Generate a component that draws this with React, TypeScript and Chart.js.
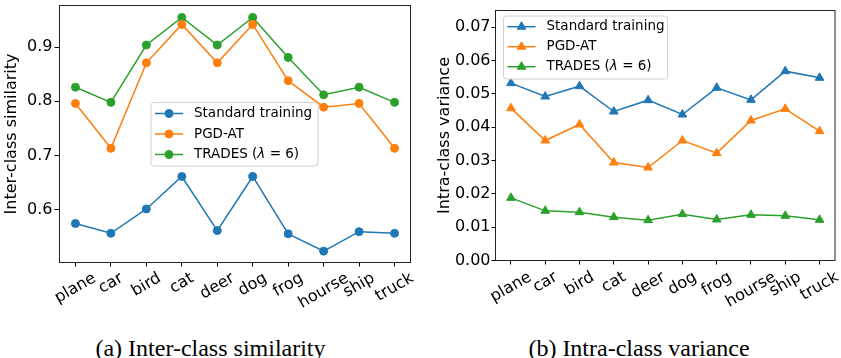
import React, { useEffect, useRef } from 'react';
import { Chart, registerables } from 'chart.js';
Chart.register(...registerables);

const categories = ['plane', 'car', 'bird', 'cat', 'deer', 'dog', 'frog', 'hourse', 'ship', 'truck'];
const seriesLabels = ['Standard training', 'PGD-AT', 'TRADES (λ = 6)'];
const seriesColors = ['#1f77b4', '#ff7f0e', '#2ca02c'];

const interStandard = [0.574, 0.556, 0.601, 0.661, 0.561, 0.661, 0.555, 0.523, 0.559, 0.556];
const interPGD = [0.796, 0.713, 0.871, 0.942, 0.871, 0.942, 0.838, 0.789, 0.796, 0.713];
const interTRADES = [0.826, 0.798, 0.904, 0.955, 0.904, 0.955, 0.881, 0.812, 0.826, 0.798];

const intraStandard = [0.0532, 0.0492, 0.0523, 0.0447, 0.0481, 0.0438, 0.0518, 0.0482, 0.0568, 0.0548];
const intraPGD = [0.0457, 0.036, 0.0408, 0.0294, 0.0279, 0.036, 0.0322, 0.042, 0.0455, 0.0388];
const intraTRADES = [0.0188, 0.0149, 0.0145, 0.013, 0.0121, 0.0139, 0.0123, 0.0137, 0.0134, 0.0122];

const interTicks = [0.6, 0.7, 0.8, 0.9];
const intraTicks = [0, 0.01, 0.02, 0.03, 0.04, 0.05, 0.06, 0.07];

const FONT = '"DejaVu Sans", sans-serif';

function drawMarker(ctx: CanvasRenderingContext2D, style: string, x: number, y: number, r: number, color: string) {
  ctx.save();
  ctx.fillStyle = color;
  ctx.strokeStyle = color;
  ctx.lineWidth = 1;
  ctx.beginPath();
  if (style === 'triangle') {
    ctx.moveTo(x, y - r);
    ctx.lineTo(x + r * 0.866, y + r * 0.5);
    ctx.lineTo(x - r * 0.866, y + r * 0.5);
    ctx.closePath();
  } else {
    ctx.arc(x, y, r, 0, Math.PI * 2);
  }
  ctx.fill();
  ctx.stroke();
  ctx.restore();
}

const customPlugin = {
  id: 'custom',
  afterDraw(chart: any, _args: any, opts: any) {
    const { ctx, chartArea: a } = chart;
    ctx.save();
    // frame (all four spines)
    ctx.strokeStyle = '#222';
    ctx.lineWidth = 1;
    ctx.strokeRect(a.left, a.top, a.right - a.left, a.bottom - a.top);

    // rotated x tick labels, centred under ticks
    const xs = chart.scales.x;
    const fs = opts.tickFontSize;
    ctx.font = `${fs}px ${FONT}`;
    ctx.fillStyle = '#000';
    const ang = Math.PI / 6;
    categories.forEach((c, i) => {
      const px = xs.getPixelForValue(i);
      const w = ctx.measureText(c).width;
      const h = fs * 1.1;
      const bh = w * Math.sin(ang) + h * Math.cos(ang);
      const cy = a.bottom + opts.labelOffset + bh / 2;
      ctx.save();
      ctx.translate(px, cy);
      ctx.rotate(-ang);
      ctx.textAlign = 'center';
      ctx.textBaseline = 'middle';
      ctx.fillText(c, 0, 0);
      ctx.restore();
    });

    // legend box
    const L = opts.legend;
    ctx.beginPath();
    const r = 3;
    ctx.moveTo(L.x + r, L.y);
    ctx.lineTo(L.x + L.w - r, L.y);
    ctx.arcTo(L.x + L.w, L.y, L.x + L.w, L.y + r, r);
    ctx.lineTo(L.x + L.w, L.y + L.h - r);
    ctx.arcTo(L.x + L.w, L.y + L.h, L.x + L.w - r, L.y + L.h, r);
    ctx.lineTo(L.x + r, L.y + L.h);
    ctx.arcTo(L.x, L.y + L.h, L.x, L.y + L.h - r, r);
    ctx.lineTo(L.x, L.y + r);
    ctx.arcTo(L.x, L.y, L.x + r, L.y, r);
    ctx.closePath();
    ctx.fillStyle = 'rgba(255,255,255,0.8)';
    ctx.fill();
    ctx.strokeStyle = '#d0d0d0';
    ctx.lineWidth = 1;
    ctx.stroke();

    chart.data.datasets.forEach((ds: any, i: number) => {
      const y = L.y + L.firstRow + i * L.rowGap;
      ctx.strokeStyle = ds.borderColor;
      ctx.lineWidth = 1.5;
      ctx.beginPath();
      ctx.moveTo(L.x + 4, y);
      ctx.lineTo(L.x + 32, y);
      ctx.stroke();
      drawMarker(ctx, ds.pointStyle, L.x + 18, y, ds.pointRadius, ds.borderColor);
      ctx.fillStyle = '#000';
      ctx.textAlign = 'left';
      ctx.textBaseline = 'middle';
      const lfs = L.fontSize;
      let tx = L.x + 43;
      const parts = String(ds.label).split('λ');
      parts.forEach((p: string, k: number) => {
        ctx.font = `${lfs}px ${FONT}`;
        ctx.fillText(p, tx, y);
        tx += ctx.measureText(p).width;
        if (k < parts.length - 1) {
          ctx.font = `italic ${lfs}px ${FONT}`;
          ctx.fillText('λ', tx, y);
          tx += ctx.measureText('λ').width;
        }
      });
    });
    ctx.restore();
  },
};

function makeConfig(p: any) {
  return {
    type: 'line',
    data: {
      datasets: p.series.map((vals: number[], i: number) => ({
        label: seriesLabels[i],
        data: vals.map((v, j) => ({ x: j, y: v })),
        borderColor: seriesColors[i],
        backgroundColor: seriesColors[i],
        borderWidth: 1.5,
        pointStyle: p.pointStyle,
        pointRadius: p.pointRadius,
        pointBorderWidth: 1,
        pointHoverRadius: p.pointRadius,
        tension: 0,
      })),
    },
    options: {
      responsive: false,
      animation: false,
      events: [],
      layout: { padding: { left: 0, top: p.top, right: p.right, bottom: 0 } },
      plugins: {
        legend: { display: false },
        tooltip: { enabled: false },
        custom: { tickFontSize: 16, labelOffset: p.labelOffset, legend: p.legend },
      },
      scales: {
        x: {
          type: 'linear',
          min: -0.45,
          max: 9.45,
          ticks: { display: false },
          grid: { drawOnChartArea: false, drawTicks: true, tickLength: 4, color: '#000', tickColor: '#000' },
          border: { display: false },
          afterBuildTicks: (s: any) => {
            s.ticks = categories.map((_, i) => ({ value: i }));
          },
          afterFit: (s: any) => {
            s.height = p.xHeight;
            s.paddingLeft = 0;
            s.paddingRight = 0;
          },
        },
        y: {
          type: 'linear',
          min: p.yMin,
          max: p.yMax,
          ticks: {
            font: { family: FONT, size: 16 },
            color: '#000',
            padding: p.tickPad,
            callback: (v: number) => Number(v).toFixed(p.decimals),
          },
          grid: { drawOnChartArea: false, drawTicks: true, tickLength: p.yTickLen, color: '#000', tickColor: '#000' },
          border: { display: false },
          title: {
            display: true,
            text: p.title,
            font: { family: FONT, size: 16 },
            color: '#000',
            padding: { top: p.titlePad, bottom: 0 },
          },
          afterBuildTicks: (s: any) => {
            s.ticks = p.ticks.map((v: number) => ({ value: v }));
          },
          afterFit: (s: any) => {
            s.width = p.yWidth;
            s.paddingTop = 0;
            s.paddingBottom = 0;
          },
        },
      },
    },
    plugins: [customPlugin],
  };
}

function ChartCanvas({ config, width, height }: any) {
  const ref = useRef<HTMLCanvasElement>(null);
  useEffect(() => {
    const chart = new Chart(ref.current as HTMLCanvasElement, config as any);
    return () => chart.destroy();
  }, []);
  return <canvas ref={ref} width={width} height={height} style={{ width, height, display: 'block' }} />;
}

export default function App() {
  const leftConfig = makeConfig({
    series: [interStandard, interPGD, interTRADES],
    pointStyle: 'circle',
    pointRadius: 4,
    top: 5.5,
    right: 9.5,
    xHeight: 57.5,
    yWidth: 59.5,
    yMin: 0.502,
    yMax: 0.977,
    ticks: interTicks,
    decimals: 1,
    tickPad: 2,
    yTickLen: 5,
    title: 'Inter-class similarity',
    titlePad: 2.1,
    labelOffset: 7,
    legend: { x: 151, y: 102.5, w: 167, h: 63.5, firstRow: 11, rowGap: 20.5, fontSize: 13.5 },
  });
  const rightConfig = makeConfig({
    series: [intraStandard, intraPGD, intraTRADES],
    pointStyle: 'triangle',
    pointRadius: 5,
    top: 10.5,
    right: 2.5,
    xHeight: 59.5,
    yWidth: 75.5,
    yMin: 0,
    yMax: 0.075,
    ticks: intraTicks,
    decimals: 2,
    tickPad: 1,
    yTickLen: 4,
    title: 'Intra-class variance',
    titlePad: 14.9,
    labelOffset: 8,
    legend: { x: 83.5, y: 16, w: 164, h: 63, firstRow: 10.7, rowGap: 20, fontSize: 13.5 },
  });
  const capStyle: any = {
    position: 'absolute',
    top: 335.6,
    fontFamily: '"Liberation Serif", "Times New Roman", serif',
    fontSize: 24,
    lineHeight: '24px',
    textAlign: 'center',
    color: '#000',
    whiteSpace: 'nowrap',
  };
  return (
    <div style={{ position: 'absolute', left: 0, top: 0, width: 841, height: 358, background: '#fff', overflow: 'hidden' }}>
      <div style={{ position: 'absolute', left: 0, top: 0 }}>
        <ChartCanvas config={leftConfig} width={420} height={320} />
      </div>
      <div style={{ position: 'absolute', left: 420, top: 0 }}>
        <ChartCanvas config={rightConfig} width={421} height={320} />
      </div>
      <div style={{ ...capStyle, left: 10.5, width: 400 }}>(a) Inter-class similarity</div>
      <div style={{ ...capStyle, left: 439, width: 400 }}>(b) Intra-class variance</div>
    </div>
  );
}
